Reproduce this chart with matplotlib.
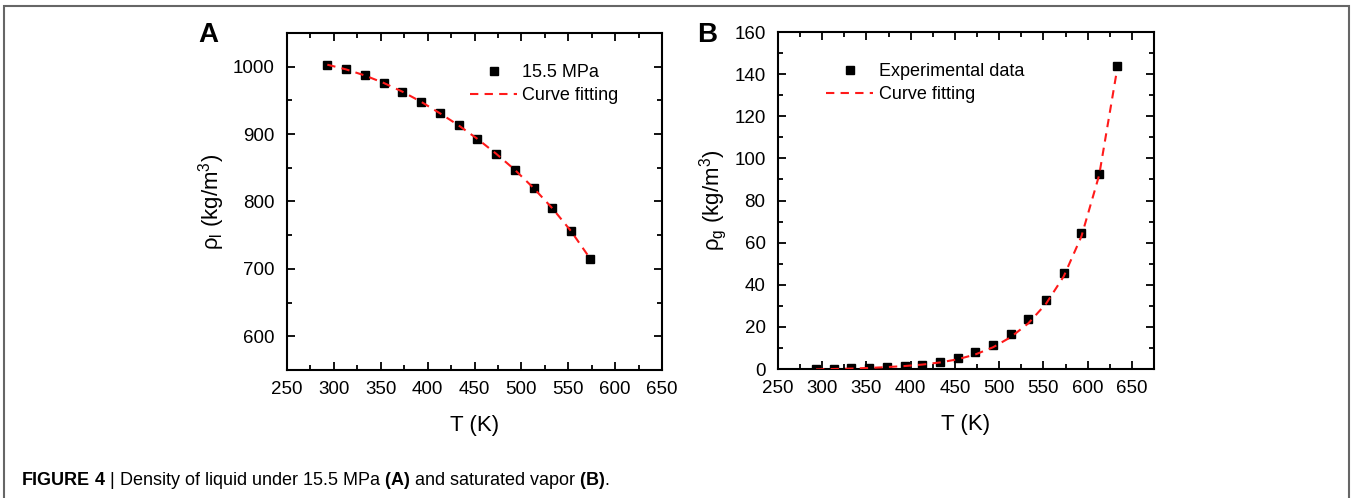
import numpy as np
import matplotlib
matplotlib.use('Agg')
import matplotlib.pyplot as plt
from matplotlib.patches import Rectangle
from matplotlib.ticker import MultipleLocator

plt.rcParams['font.family'] = ['Liberation Sans', 'DejaVu Sans']
plt.rcParams['mathtext.fontset'] = 'custom'
plt.rcParams['mathtext.rm'] = 'Liberation Sans'
plt.rcParams['mathtext.bf'] = 'Liberation Sans:bold'
plt.rcParams['mathtext.default'] = 'regular'

# temperatures (K)
T_LIQ = [293, 313, 333, 353, 373, 393, 413, 433, 453, 473, 493, 513, 533, 553, 573]
T_VAP = [293, 313, 333, 353, 373, 393, 413, 433, 453, 473, 493, 513, 533, 553, 573, 593, 613, 633]

# liquid density under 15.5 MPa (kg/m3)
RHO_LIQ = [1003, 997, 988, 976, 962, 948, 931, 913, 893, 871, 847, 820, 791, 756, 715]
RHO_LIQ_FIT = [1003, 996, 987, 976, 963, 948, 931, 913, 893, 871, 847, 820, 790, 756, 716]

# saturated vapor density (kg/m3)
RHO_VAP = [0.1, 0.2, 0.3, 0.5, 0.8, 1.2, 1.9, 3.2, 5.0, 7.9, 11.6, 16.7, 23.7, 32.9, 45.8, 64.6, 92.6, 143.9]
RHO_VAP_FIT = [-0.2, 0.0, 0.2, 0.5, 0.9, 1.4, 2.1, 3.1, 4.6, 6.9, 10.3, 15.1, 21.7, 31.0, 44.0, 63.0, 92.0, 141.5]

W, H = 1352, 498
fig = plt.figure(figsize=(W / 100, H / 100), dpi=100)


def px_axes(x0, y0, x1, y1):
    return fig.add_axes([x0 / W, 1 - y1 / H, (x1 - x0) / W, (y1 - y0) / H])


def style_axes(ax, ymajor, yminor):
    ax.xaxis.set_major_locator(MultipleLocator(50))
    ax.xaxis.set_minor_locator(MultipleLocator(25))
    ax.yaxis.set_major_locator(MultipleLocator(ymajor))
    ax.yaxis.set_minor_locator(MultipleLocator(yminor))
    ax.tick_params(which='both', direction='in', top=True, right=True, width=1.3, labelsize=13.5)
    ax.tick_params(axis='x', pad=8)
    ax.tick_params(axis='y', pad=9)
    ax.tick_params(which='major', length=6)
    ax.tick_params(which='minor', length=3.5)
    for s in ax.spines.values():
        s.set_linewidth(1.5)


leg_kw = dict(loc='upper left', frameon=False, fontsize=13, handlelength=2.6,
              handletextpad=0.3, labelspacing=0.3)

# panel A
axA = px_axes(287, 33, 662, 370)
axA.plot(T_LIQ, RHO_LIQ, 'ks', ms=6.4, label='15.5 MPa', zorder=3)
axA.plot(T_LIQ, RHO_LIQ_FIT, '--', color='#ff1a1a', lw=1.5, dashes=(4, 3), label='Curve fitting', zorder=4)
axA.set_xlim(250, 650)
axA.set_ylim(550, 1050)
style_axes(axA, 100, 50)
axA.set_xlabel('T (K)', fontsize=16, labelpad=12)
axA.set_ylabel('ρ$_\\mathregular{l}$ (kg/m$^\\mathregular{3}$)', fontsize=16, labelpad=4)
axA.legend(bbox_to_anchor=(0.445, 0.955), **leg_kw)

# panel B
axB = px_axes(778, 32, 1154, 369)
axB.plot(T_VAP, RHO_VAP, 'ks', ms=6.4, label='Experimental data', zorder=3)
axB.plot(T_VAP, RHO_VAP_FIT, '--', color='#ff1a1a', lw=1.5, dashes=(4, 3), label='Curve fitting', zorder=4)
axB.set_xlim(250, 675)
axB.set_ylim(0, 160)
style_axes(axB, 20, 10)
axB.set_xticks(np.arange(250, 651, 50))
axB.set_xlabel('T (K)', fontsize=16, labelpad=12)
axB.set_ylabel('ρ$_\\mathregular{g}$ (kg/m$^\\mathregular{3}$)', fontsize=16, labelpad=4)
axB.legend(bbox_to_anchor=(0.085, 0.955), **leg_kw)

# panel letters
fig.text(208 / W, 1 - 35 / H, 'A', fontsize=20, fontweight='bold', ha='center', va='center')
fig.text(707 / W, 1 - 35 / H, 'B', fontsize=20, fontweight='bold', ha='center', va='center')

# caption
fig.text(21 / W, 1 - 480 / H,
         r'$\mathbf{FIGURE\ 4}$ | Density of liquid under 15.5 MPa $\mathbf{(A)}$ and saturated vapor $\mathbf{(B)}$.',
         fontsize=13, ha='left', va='center')

# frame around the figure
frame = Rectangle((4 / W, -0.05), 1345 / W, 1 - 6 / H + 0.05, transform=fig.transFigure,
                  fill=False, edgecolor='#666666', lw=1.5, clip_on=False)
fig.patches.append(frame)

fig.savefig('out.png', dpi=100)
